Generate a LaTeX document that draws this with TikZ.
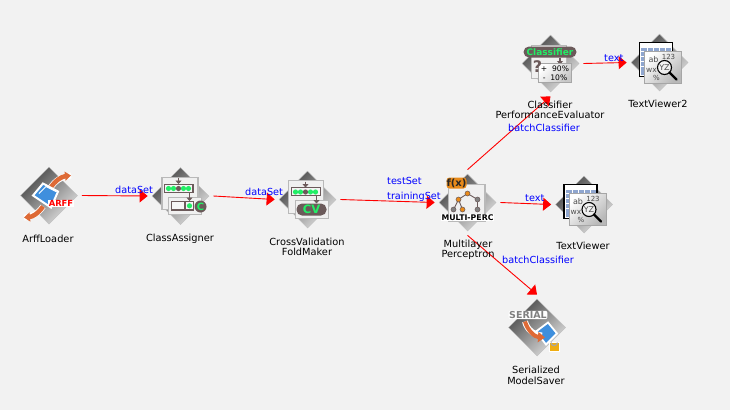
\documentclass[tikz,border=0pt]{standalone}
\usepackage{fontspec}
\setmainfont{DejaVu Sans}
\usepackage{tikz}
\usetikzlibrary{arrows.meta, shapes.geometric}

\definecolor{pagebg}{HTML}{F2F2F2}
\definecolor{ledgreen}{HTML}{22EE66}
\definecolor{slate}{HTML}{6B5A5A}
\definecolor{rust}{HTML}{DE6A36}
\definecolor{amber}{HTML}{E88A1A}
\definecolor{cell}{HTML}{8FA6CF}
\definecolor{docblue}{HTML}{3F8FDD}

\tikzset{
  bean/.style={diamond, aspect=1, minimum width=59.5, minimum height=59.5, inner sep=0pt, outer sep=3.1pt,
    draw=gray!50, top color=black!72, bottom color=black!12, shading angle=45},
  link/.style={draw=red, line width=0.9pt, -{Triangle[length=8pt,width=13pt]}},
  linktext/.style={text=blue, font=\fontsize{9.7}{11}\selectfont, anchor=base west, inner sep=0pt},
  beantext/.style={font=\fontsize{9.8}{10.5}\selectfont, align=center, inner sep=0pt},
  sheet/.style={draw=gray!55, fill=black!6, line width=1.2pt},
  slot/.style={draw=slate, fill=black!4, line width=1.4pt},
  flow/.style={draw=slate, line width=1.4pt, -{Triangle[length=3.5pt,width=6pt]}},
  pill/.style={fill=slate, rounded corners=5.5pt},
  badge/.style={inner sep=0pt, font=\bfseries\fontsize{#1}{#1}\selectfont},
  small/.style={inner sep=0pt, text=black!70, font=\fontsize{#1}{#1}\selectfont},
  knot/.style={draw=slate, line width=0.5pt},
  twig/.style={draw=slate, line width=0.9pt},
}

\newcommand{\ledrow}{
  \foreach \x/\c in {-12/ledgreen,-7/ledgreen,-2/slate,3/ledgreen,8/ledgreen}
    \fill[\c] (\x,-7.5) circle (2.6);
}

\newcommand{\viewericon}[2]{
  \begin{scope}[shift={(#1.center)}]
    \draw[black, fill=white, line width=1.5pt] (-20,-20) rectangle (13,14);
    \fill[cell] (-18.5,-15) rectangle (11.5,12.5);
    \foreach \y in {-11,-6,-1,4}
      \draw[white, line width=0.4pt] (-18.5,\y) -- (11.5,\y);
    \foreach \x in {-12,-6,0,6}
      \draw[white, line width=0.4pt] (\x,-18.5) -- (\x,12.5);
    \draw[draw=gray!70, line width=0.9pt, top color=white, bottom color=black!28, shading angle=45] (-15,-11) rectangle (22,21);
    \node[small=8] (#2ab) at (-6,-3) {ab};
    \node[small=7] (#2num) at (9,-6) {123};
    \node[small=7.5] (#2wx) at (-8,8) {wx};
    \node[small=7] (#2pc) at (-3,15.5) {\%};
    \draw[black, fill=white, fill opacity=0.6, line width=1.1pt] (5,5) circle (7);
    \node[small=8] (#2yz) at (5,5) {YZ};
    \draw[black, line width=2.4pt, line cap=round] (10,10) -- (17,17);
  \end{scope}
}

\begin{document}
\begin{tikzpicture}[x=1pt,y=-1pt]
  \fill[pagebg] (0,0) rectangle (730,410);

  % beans
  \node[bean] (arff) at (49,195.5) {};
  \node[bean] (assigner) at (180.5,196) {};
  \node[bean] (foldmaker) at (307.5,199.5) {};
  \node[bean] (perceptron) at (467.5,202.5) {};
  \node[bean] (viewer) at (584,204.5) {};
  \node[bean] (evaluator) at (550.5,63.5) {};
  \node[bean] (viewertwo) at (659.5,62.5) {};
  \node[bean] (saver) at (537,327.5) {};

  % ArffLoader icon
  \begin{scope}[shift={(arff.center)}]
    \draw[white, line width=6pt] (1,-7) to[bend left=25] (22,-20);
    \draw[white, line width=6pt] (-6,11) to[bend left=25] (-25,22);
    \draw[rust, line width=4.5pt, -{Triangle[length=6pt,width=9pt]}] (1,-7) to[bend left=25] (22,-20);
    \draw[rust, line width=4.5pt, -{Triangle[length=6pt,width=9pt]}] (-6,11) to[bend left=25] (-25,22);
    \draw[white, fill=docblue, line width=2pt] (-16,0) -- (-6,-12) -- (9,-4) -- (2,12) -- cycle;
    \draw[white, line width=1pt] (-10,-2) -- (-3,-9) -- (7,-4);
    \node[badge=8.4, text=red, fill=white, inner sep=0.6pt] (arfftag) at (12,8) {ARFF};
  \end{scope}

  % ClassAssigner icon
  \begin{scope}[shift={(assigner.center)}]
    \draw[sheet] (-18.5,-18.5) rectangle (17.5,13.5);
    \draw[slot] (-16,-11.5) rectangle (12.5,-3.5);
    \ledrow
    \draw[sheet] (-12,1.5) rectangle (21,18.5);
    \draw[slot] (-9,5.5) rectangle (13,14);
    \draw[slate, line width=1.2pt] (4.5,5.5) -- (4.5,14);
    \fill[ledgreen] (9,9.8) circle (2.6);
    \draw[flow] (-2,-18) -- (-2,-12);
    \draw[flow] (9,-3.5) -- (9,5);
    \fill[slate] (20,10.5) circle (6);
    \node[badge=10, text=ledgreen] (assignertag) at (20,10.5) {C};
  \end{scope}

  % CrossValidationFoldMaker icon
  \begin{scope}[shift={(foldmaker.center)}]
    \draw[sheet] (-19,-19) rectangle (16,14);
    \draw[slot] (-16,-12) rectangle (13,-4);
    \ledrow
    \draw[sheet] (-12,1) rectangle (21,19);
    \draw[flow] (-2,-18) -- (-2,-12);
    \draw[flow] (9,-4) -- (9,4);
    \fill[pill] (-11,4) rectangle (19,16);
    \node[badge=11.5, text=ledgreen] (foldtag) at (4,10) {CV};
  \end{scope}

  % MultilayerPerceptron icon
  \begin{scope}[shift={(perceptron.center)}]
    \draw[sheet] (-19,-18) rectangle (17.5,19);
    \draw[twig] (0,-9) -- (-9,-3) -- (-14,7);
    \draw[twig] (-9,-3) -- (-5,7);
    \draw[twig] (0,-9) -- (10,-3) -- (10,7);
    \foreach \x/\y/\c in {0/-9/amber,-9/-3/amber,10/-3/gray,-14/7/gray,-5/7/amber,10/7/gray}
      \fill[\c, knot] (\x,\y) circle (2.5);
    \node[badge=7.8, text=black, fill=white, inner sep=0.6pt] (perceptag) at (0,15) {MULTI-PERC};
    \fill[amber, rounded corners=3pt] (-21,-25) rectangle (-1,-14);
    \node[badge=10, text=black!85] (percefx) at (-11,-19.5) {f(x)};
  \end{scope}

  % PerformanceEvaluator icon
  \begin{scope}[shift={(evaluator.center)}]
    \draw[sheet] (-19,-18) rectangle (16,15);
    \fill[pill] (-27,-17) rectangle (26,-6);
    \node[badge=9, text=ledgreen] (evaltag) at (-0.5,-11.5) {Classifier};
    \draw[flow] (9.5,-6) -- (9.5,1);
    \draw[draw=gray!70, line width=0.9pt, top color=white, bottom color=black!22, shading angle=45] (-12,0) rectangle (21,19);
    \node[badge=16, text=slate] (evalquery) at (-13,3) {?};
    \node[small=7.6, text=black] (evalhigh) at (4.5,5.5) {+~~90\%};
    \node[small=7.6, text=black] (evallow) at (4.5,14) {-~~10\%};
  \end{scope}

  % TextViewer icons
  \viewericon{viewer}{va}
  \viewericon{viewertwo}{vb}

  % SerializedModelSaver icon
  \begin{scope}[shift={(saver.center)}]
    \draw[white, fill=docblue, line width=1.8pt] (-1,4) -- (11,-5) -- (20,6) -- (9,17) -- cycle;
    \draw[white, line width=6pt] (-12,-6) to[bend right=35] (5,8);
    \draw[rust, line width=4pt, -{Triangle[length=7pt,width=10pt]}] (-12,-6) to[bend right=35] (8,10);
    \draw[draw=white, fill=amber!70!yellow, line width=0.7pt] (12,15) rectangle (22.5,24);
    \draw[gray!70, line width=1.2pt] (14,15) arc (180:0:3.2);
    \node[badge=9.5, text=black!50, fill=white, inner sep=0.6pt, rounded corners=2pt] (savertag) at (-9,-12.5) {SERIAL};
  \end{scope}

  % connectors
  \draw[link] (arff.east) -- (assigner.west);
  \draw[link] (assigner.east) -- (foldmaker.west);
  \draw[link] (foldmaker.east) -- (perceptron.west);
  \draw[link] (perceptron.east) -- (viewer.west);
  \draw[link] (perceptron.north) -- (evaluator.south);
  \draw[link] (evaluator.east) -- (viewertwo.west);
  \draw[link] (perceptron.south) -- (saver.north);

  % connector labels
  \node[linktext] (dataone) at (115,193.5) {dataSet};
  \node[linktext] (datatwo) at (245,195) {dataSet};
  \node[linktext] (testset) at (387,184) {testSet};
  \node[linktext] (trainset) at (387,199) {trainingSet};
  \node[linktext] (textone) at (525,201.5) {text};
  \node[linktext] (texttwo) at (604,61.5) {text};
  \node[linktext] (batchone) at (508,131) {batchClassifier};
  \node[linktext] (batchtwo) at (502,263) {batchClassifier};

  % bean labels
  \node[beantext] (arffname) at (48,239) {ArffLoader};
  \node[beantext] (assignername) at (180,239) {ClassAssigner};
  \node[beantext] (foldname) at (307,247) {CrossValidation\\FoldMaker};
  \node[beantext] (percename) at (468,250) {Multilayer\\Perceptron};
  \node[beantext] (viewername) at (583,246) {TextViewer};
  \node[beantext] (evalname) at (550,110) {Classifier\\PerformanceEvaluator};
  \node[beantext] (viewertwoname) at (658,104) {TextViewer2};
  \node[beantext] (savername) at (536,375.5) {Serialized\\ModelSaver};
\end{tikzpicture}
\end{document}
